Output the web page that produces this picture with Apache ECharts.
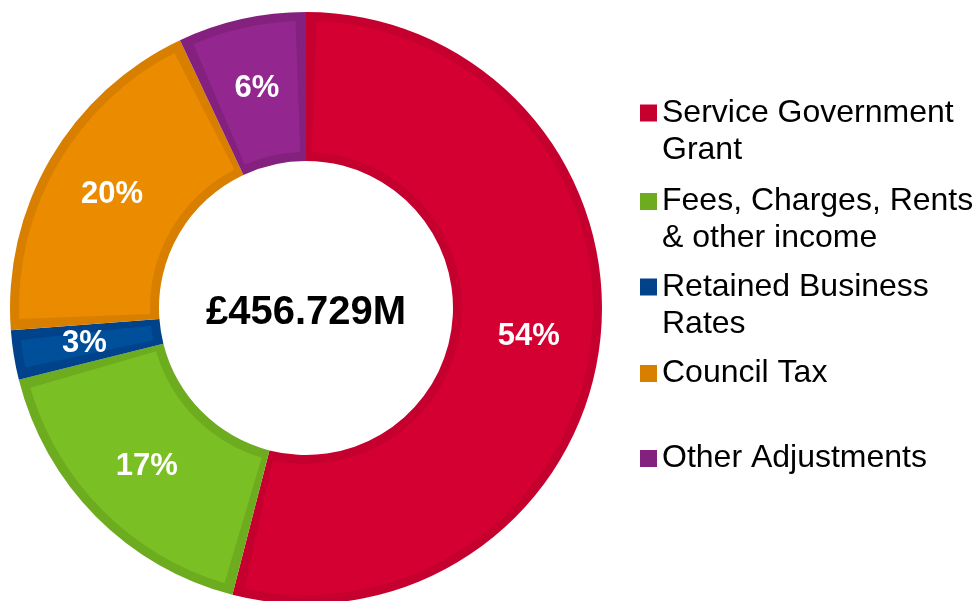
<!DOCTYPE html>
<html>
<head>
<meta charset="utf-8">
<script src="https://cdn.jsdelivr.net/npm/echarts@6/dist/echarts.min.js"></script>
<style>
html,body{margin:0;padding:0;background:#fff;}
#chart{width:977px;height:601px;}
</style>
</head>
<body>
<div id="chart"></div>
<script>
// ---- data ----
const categories = ['Service Government Grant', 'Fees, Charges, Rents & other income', 'Retained Business Rates', 'Council Tax', 'Other Adjustments'];
const legendLabels = ['Service Government\nGrant', 'Fees, Charges, Rents\n& other income', 'Retained Business\nRates', 'Council Tax', 'Other Adjustments'];
const shares = [54.0, 17.1, 2.7, 19.2, 7.0];
const percentLabels = ['54%', '17%', '3%', '20%', '6%'];
const totalLabel = '£456.729M';

// ---- styles ----
const fillColors = ['#D50032', '#7ABF23', '#004F9B', '#EA8B00', '#93278F'];
const edgeColors = ['#C6002E', '#6DAB1F', '#00438A', '#D97F00', '#84217F'];

const cx = 306, cy = 308;
const FONT = 'Liberation Sans, Arial, Helvetica, sans-serif';
const LH = 37;

const chart = echarts.init(document.getElementById('chart'), null, {renderer: 'canvas'});

// first-line centres of each legend entry
const legendLineCentres = [113, 201.5, 287, 373.5, 458.5];
const legends = categories.map((name, i) => {
  const twoLine = legendLabels[i].indexOf('\n') >= 0;
  return {
    orient: 'vertical',
    left: 640,
    top: twoLine ? legendLineCentres[i] - 1.5 * LH : legendLineCentres[i] - 0.5 * LH,
    padding: 0,
    icon: 'rect',
    itemWidth: 17,
    itemHeight: 17,
    selectedMode: false,
    data: [name],
    // a blank line above a two-line label keeps the square level with its first line
    formatter: (n) => {
      const t = legendLabels[categories.indexOf(n)];
      return t.indexOf('\n') >= 0 ? ' \n' + t : t;
    },
    textStyle: {fontFamily: FONT, fontSize: 32, lineHeight: LH, color: '#000'}
  };
});

const option = {
  animation: false,
  backgroundColor: '#fff',
  legend: legends,
  graphic: [{
    type: 'text',
    x: cx, y: cy + 5,
    style: {
      text: totalLabel,
      fontFamily: FONT, fontSize: 40, fontWeight: 'bold',
      fill: '#000', textAlign: 'center', textVerticalAlign: 'middle'
    },
    z: 10
  }],
  series: [
    {
      type: 'pie',
      name: 'edge',
      center: [cx, cy],
      radius: [147, 296],
      startAngle: 90,
      clockwise: true,
      avoidLabelOverlap: false,
      silent: true,
      label: {show: false},
      labelLine: {show: false},
      emphasis: {disabled: true},
      data: categories.map((name, i) => ({
        name: name, value: shares[i],
        itemStyle: {color: edgeColors[i], borderWidth: 0}
      }))
    },
    {
      type: 'pie',
      name: 'fill',
      center: [cx, cy],
      radius: [156, 287],
      startAngle: 90,
      clockwise: true,
      padAngle: 4.2,
      avoidLabelOverlap: false,
      silent: true,
      emphasis: {disabled: true},
      labelLine: {show: false},
      label: {
        show: true,
        position: 'inside',
        formatter: (p) => percentLabels[p.dataIndex],
        color: '#fff',
        fontFamily: FONT,
        fontSize: 31,
        fontWeight: 'bold'
      },
      data: categories.map((name, i) => ({
        name: name, value: shares[i],
        itemStyle: {color: fillColors[i], borderWidth: 0}
      }))
    }
  ]
};
chart.setOption(option);
</script>
</body>
</html>
